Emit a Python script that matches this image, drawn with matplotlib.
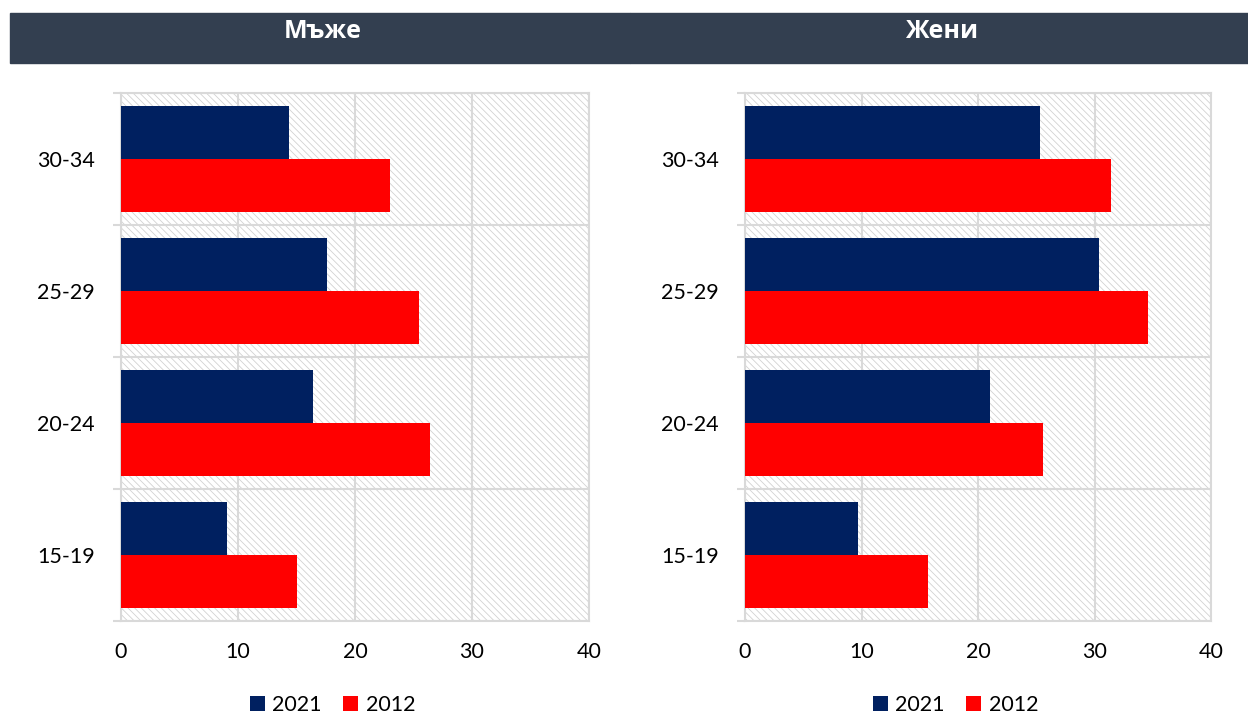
import matplotlib.pyplot as plt
import matplotlib.patches as mpatches
import numpy as np

# age groups, bottom to top
groups = ["15-19", "20-24", "25-29", "30-34"]
years = ["2021", "2012"]

men_2021 = [9.1, 16.4, 17.6, 14.4]
men_2012 = [15.0, 26.4, 25.5, 23.0]
women_2021 = [9.7, 21.0, 30.4, 25.3]
women_2012 = [15.7, 25.6, 34.6, 31.4]

titles = ["Мъже", "Жени"]

navy = "#002060"
red = "#FF0000"
header = "#333F50"
grid = "#D9D9D9"

plt.rcParams['font.family'] = ['Lato', 'Open Sans', 'DejaVu Sans']
plt.rcParams['hatch.linewidth'] = 0.6

fig = plt.figure(figsize=(12.48, 7.15), dpi=100)

W, H = 1248, 715
panels = [
    (men_2021, men_2012, 121, 589, 10, 630),
    (women_2021, women_2012, 745, 1211, 630, 1248),
]

y = np.arange(len(groups))
h = 0.4

for i, (v21, v12, x0, x1, hx0, hx1) in enumerate(panels):
    # header band
    fig.patches.append(mpatches.Rectangle((hx0 / W, 1 - 63 / H), (hx1 - hx0) / W, 50 / H,
                                          transform=fig.transFigure, color=header, zorder=0))
    fig.text((hx0 + hx1) / 2 / W + 0.002, 1 - 31 / H, titles[i], color="white", fontsize=18,
             fontweight="bold", ha="center", va="center", family=['Open Sans', 'DejaVu Sans'])

    ax = fig.add_axes([x0 / W, 1 - 621 / H, (x1 - x0) / W, 528 / H])
    ax.set_facecolor("white")
    # hatched plot area
    ax.add_patch(mpatches.Rectangle((0, 0), 1, 1, transform=ax.transAxes, facecolor="none",
                                    edgecolor="#D2D2D2", hatch="\\\\\\\\\\", linewidth=0, zorder=0))

    ax.barh(y + h / 2, v21, height=h, color=navy, zorder=3, label=years[0])
    ax.barh(y - h / 2, v12, height=h, color=red, zorder=3, label=years[1])

    ax.set_xlim(0, 40)
    ax.set_ylim(-0.5, len(groups) - 0.5)
    ax.set_xticks([0, 10, 20, 30, 40])
    ax.set_yticks(y)
    ax.set_yticklabels(groups)
    ax.set_yticks(np.arange(-0.5, len(groups), 1), minor=True)

    ax.grid(axis="x", color=grid, linewidth=1.5, zorder=1)
    ax.grid(axis="y", which="minor", color=grid, linewidth=1.5, zorder=1)
    for s in ax.spines.values():
        s.set_color(grid)
        s.set_linewidth(1.5)

    ax.tick_params(axis="y", which="major", length=0, pad=19, labelsize=15.5)
    ax.tick_params(axis="y", which="minor", length=6, width=1.5, color=grid)
    ax.tick_params(axis="x", length=0, pad=15, labelsize=15.5)

    cx = (x0 + x1) / 2 / W
    fig.legend(handles=ax.get_legend_handles_labels()[0], labels=years, loc="center",
               bbox_to_anchor=(cx - 0.018, 1 - 705 / H), ncol=2, frameon=False, fontsize=15.5,
               handlelength=0.7, handleheight=0.7, handletextpad=0.35, columnspacing=1.0)

fig.savefig("out.png", dpi=100)
